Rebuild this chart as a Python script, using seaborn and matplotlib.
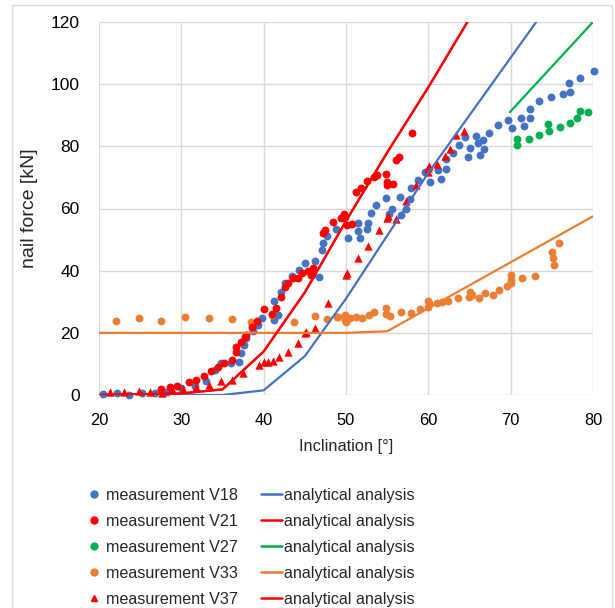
import matplotlib
matplotlib.use("Agg")
import matplotlib.pyplot as plt
import seaborn as sns
import pandas as pd
from matplotlib.lines import Line2D

# ---------------- data ----------------
v18_x = [20.5, 22.2, 23.7, 25.2, 26.8, 28.3, 30.0, 31.6, 33.0, 34.1, 34.8, 36.0, 37.0, 37.3, 37.6,
         37.9, 38.7, 39.3, 39.8, 41.2, 41.3, 41.8, 42.1, 42.6, 43.5, 44.3, 45.0, 45.9, 46.2, 46.7,
         47.1, 47.2, 47.7, 48.8, 50.3, 51.4, 51.5, 51.7, 52.5, 52.7, 53.0, 53.7, 54.9, 55.2, 55.6,
         56.6, 56.7, 57.3, 57.8, 57.9, 58.8, 59.6, 60.2, 61.2, 61.5, 62.2, 62.1, 63.0, 63.7, 64.4,
         64.8, 65.0, 65.8, 66.0, 66.3, 66.7, 66.8, 67.4, 68.5, 69.7, 70.2, 71.3, 71.6, 72.3, 72.4,
         73.5, 74.9, 76.4, 77.2, 77.1, 78.4, 80.1]
v18_y = [0.3, 0.5, 0.0, 0.5, 0.5, 1.1, 2.3, 2.8, 4.6, 8.0, 10.4, 10.4, 10.7, 13.4, 16.1,
         18.2, 20.7, 22.5, 24.7, 24.1, 30.2, 25.7, 33.2, 35.9, 38.3, 40.2, 42.4, 38.6, 43.2, 38.1,
         46.6, 48.8, 51.3, 53.3, 50.6, 52.9, 55.4, 50.6, 53.3, 55.4, 58.4, 61.1, 63.5, 58.2, 60.0,
         63.8, 57.9, 60.0, 62.9, 66.5, 69.2, 71.8, 68.6, 72.4, 69.4, 72.7, 75.8, 77.7, 80.4, 82.9,
         76.7, 79.4, 83.4, 81.0, 77.2, 82.0, 79.3, 84.2, 86.9, 88.5, 85.8, 89.0, 86.5, 89.0, 92.1,
         94.5, 96.0, 96.8, 97.4, 100.5, 102.1, 104.2]

v21_x = [27.5, 28.6, 29.5, 30.9, 31.8, 32.8, 33.6, 34.4, 35.2, 36.2, 36.6, 36.6, 37.2, 37.7, 37.9,
         38.6, 39.2, 40.1, 41.0, 41.5, 42.1, 42.6, 43.0, 43.6, 44.2, 44.6, 45.4, 45.7, 46.0, 47.2,
         47.5, 48.4, 49.4, 49.7, 49.9, 50.1, 50.7, 51.2, 51.8, 52.5, 53.4, 53.8, 54.8, 55.0, 55.0,
         55.7, 56.1, 56.4, 58.0]
v21_y = [1.9, 2.5, 2.9, 4.3, 4.9, 6.2, 7.7, 9.0, 10.4, 11.3, 13.9, 15.5, 17.1, 18.8, 19.3,
         22.0, 23.9, 27.6, 26.1, 27.9, 31.4, 34.8, 36.1, 37.5, 37.8, 39.1, 40.0, 38.6, 40.8, 52.0,
         53.1, 55.5, 56.8, 58.2, 57.3, 54.7, 55.0, 65.4, 66.5, 68.9, 70.0, 70.7, 71.1, 68.6, 67.6,
         67.8, 75.6, 76.7, 84.2]

v27_x = [70.8, 70.8, 72.2, 73.5, 74.5, 74.7, 76.0, 77.2, 78.1, 78.4, 79.4]
v27_y = [82.4, 80.4, 82.3, 83.7, 87.2, 85.0, 86.1, 87.6, 89.2, 91.4, 91.0]

v33_x = [22.1, 24.8, 27.5, 30.4, 33.3, 36.1, 38.5, 41.0, 43.7, 46.2, 47.7, 48.9, 49.0, 49.9, 49.9,
         50.0, 50.5, 51.2, 52.0, 52.8, 53.4, 54.8, 54.8, 55.4, 56.7, 57.9, 59.0, 59.9, 59.9, 60.1,
         61.0, 61.6, 62.4, 63.6, 64.9, 65.1, 65.3, 66.1, 66.9, 67.8, 68.6, 69.5, 70.1, 70.1, 70.1,
         71.4, 73.0, 75.0, 75.1, 75.3, 75.9]
v33_y = [23.8, 24.7, 23.8, 25.0, 24.9, 24.3, 23.6, 25.7, 23.6, 25.4, 24.3, 25.2, 25.0, 25.7, 24.1,
         23.4, 24.7, 25.2, 24.9, 25.7, 26.6, 27.9, 26.1, 25.5, 26.8, 26.5, 27.7, 30.3, 28.4, 29.5,
         29.5, 30.0, 30.3, 31.1, 31.4, 33.2, 32.2, 31.1, 32.9, 32.2, 33.8, 35.1, 38.6, 37.0, 35.9,
         37.7, 38.3, 46.1, 44.0, 41.8, 49.0]

v37_x = [21.3, 23.0, 24.9, 26.2, 27.6, 28.9, 30.2, 31.8, 33.4, 34.8, 36.1, 37.5, 39.4, 40.0, 40.5,
         41.1, 41.9, 43.0, 44.2, 45.0, 45.1, 46.2, 47.8, 50.0, 50.1, 51.5, 52.7, 54.0, 55.0, 55.1,
         56.1, 57.3, 58.5, 60.0, 60.1, 60.0, 61.1, 62.0, 62.6, 63.4, 64.3]
v37_y = [0.9, 0.9, 1.2, 1.1, 0.6, 2.0, 1.9, 2.7, 3.2, 4.4, 4.8, 7.2, 9.7, 10.7, 10.7,
         11.0, 12.3, 13.9, 16.8, 19.8, 20.3, 21.7, 29.7, 38.6, 39.4, 44.0, 48.0, 53.1, 56.8, 57.6,
         56.6, 62.5, 67.6, 72.9, 73.8, 71.8, 74.3, 76.9, 79.0, 83.8, 85.0]

# analytical analysis curves
a18_x = [20, 35, 40, 45, 50, 60, 73.1]
a18_y = [0, 0, 1.5, 12.5, 31, 71.5, 120]
a21_x = [20, 30, 35, 40, 45, 50, 55, 60, 64.75]
a21_y = [0, 0.5, 1.8, 14, 33, 56, 78, 99, 120]
a27_x = [69.9, 80]
a27_y = [91, 120]
a33_x = [20, 50, 55, 80]
a33_y = [20, 20, 20.5, 57.5]
a37_x = a21_x
a37_y = a21_y

labels_meas = ["measurement V18", "measurement V21", "measurement V27",
               "measurement V33", "measurement V37"]
label_ana = "analytical analysis"
x_ticks = [20, 30, 40, 50, 60, 70, 80]
y_ticks = [0, 20, 40, 60, 80, 100, 120]

BLUE, RED, GREEN, ORANGE = "#4472C4", "#FF0000", "#00B050", "#ED7D31"

# ---------------- figure ----------------
sns.set_theme(style="white")
plt.rcParams["font.family"] = ["Liberation Sans", "DejaVu Sans"]

fig = plt.figure(figsize=(6.15, 6.08), dpi=100)
ax = fig.add_axes([99 / 615, 1 - 395 / 608, (593 - 99) / 615, (395 - 22) / 608])

# outer chart border
fig.add_artist(plt.Rectangle((12 / 615, -0.05), 600 / 615, 1.05 - 5 / 608,
                             transform=fig.transFigure, fill=False,
                             edgecolor="#D9D9D9", linewidth=1.0))

ana = [(a18_x, a18_y, BLUE), (a21_x, a21_y, RED), (a27_x, a27_y, GREEN),
       (a33_x, a33_y, ORANGE), (a37_x, a37_y, RED)]
for xs, ys, c in ana:
    df = pd.DataFrame({"x": xs, "y": ys})
    sns.lineplot(data=df, x="x", y="y", ax=ax, color=c, linewidth=1.6,
                 sort=False, estimator=None, legend=False)

meas = [(v18_x, v18_y, BLUE, "o"), (v33_x, v33_y, ORANGE, "o"),
        (v27_x, v27_y, GREEN, "o"), (v21_x, v21_y, RED, "o"),
        (v37_x, v37_y, RED, "^")]
for xs, ys, c, m in meas:
    df = pd.DataFrame({"x": xs, "y": ys})
    sns.scatterplot(data=df, x="x", y="y", ax=ax, color=c, marker=m,
                    s=32 if m == "o" else 36, linewidth=0, legend=False,
                    clip_on=False)

ax.set_xlim(20, 80)
ax.set_ylim(0, 120)
ax.set_xticks(x_ticks)
ax.set_yticks(y_ticks)
ax.set_xticklabels([str(t) for t in x_ticks])
ax.set_yticklabels([str(t) for t in y_ticks])
ax.grid(True, color="#D9D9D9", linewidth=1.0)
ax.set_axisbelow(True)
for s in ax.spines.values():
    s.set_visible(False)
ax.tick_params(axis="both", length=0, colors="#000000")
ax.tick_params(axis="x", pad=13, labelsize=11.8)
ax.tick_params(axis="y", pad=14, labelsize=12.5)
ax.set_xlabel("Inclination [°]", fontsize=11.8, labelpad=8)
ax.set_ylabel("nail force [kN]", fontsize=14, labelpad=9)

# legend
mcolors = [BLUE, RED, GREEN, ORANGE, RED]
mmarks = ["o", "o", "o", "o", "^"]
handles = [Line2D([], [], linestyle="none", marker=mk, color=c, markersize=5)
           for c, mk in zip(mcolors, mmarks)]
lcolors = [BLUE, RED, GREEN, ORANGE, RED]
handles += [Line2D([], [], color=c, linewidth=1.8) for c in lcolors]
labels = labels_meas + [label_ana] * 5
fig.legend(handles, labels, ncol=2, loc="center", bbox_to_anchor=(0.405, 0.1),
           frameon=False, fontsize=11.6, handlelength=1.3, handletextpad=0.15,
           columnspacing=1.4, labelspacing=0.68)

fig.savefig("out.png", dpi=100)
